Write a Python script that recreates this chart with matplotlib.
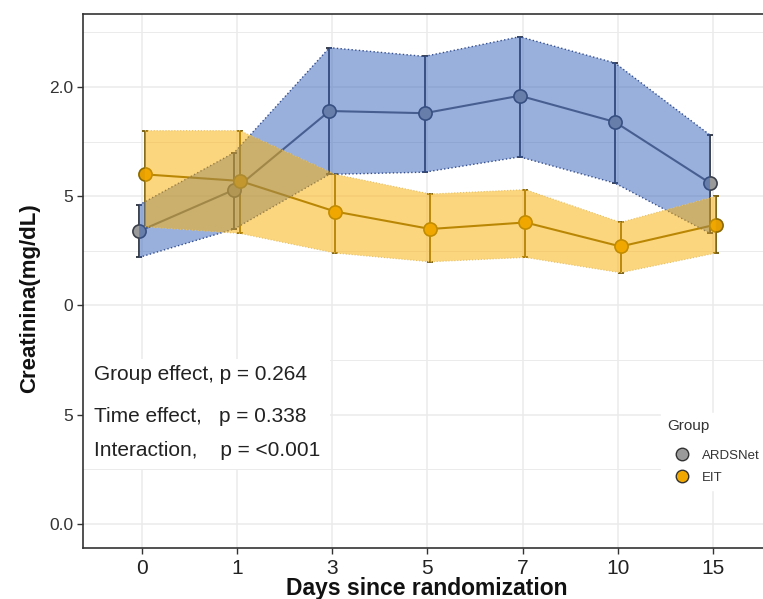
import matplotlib
matplotlib.use("Agg")
import matplotlib.pyplot as plt
from matplotlib.lines import Line2D
from matplotlib.patches import Rectangle
import numpy as np

plt.rcParams['font.family'] = ['Liberation Sans', 'DejaVu Sans']

# ---------------- data ----------------
days = ["0", "1", "3", "5", "7", "10", "15"]
ards_mean = [1.34, 1.53, 1.89, 1.88, 1.96, 1.84, 1.56]
ards_low = [1.22, 1.35, 1.60, 1.61, 1.68, 1.56, 1.33]
ards_high = [1.46, 1.70, 2.18, 2.14, 2.23, 2.11, 1.78]
eit_mean = [1.60, 1.57, 1.43, 1.35, 1.38, 1.27, 1.37]
eit_low = [1.36, 1.33, 1.24, 1.20, 1.22, 1.15, 1.24]
eit_high = [1.80, 1.80, 1.60, 1.51, 1.53, 1.38, 1.50]
ytick_vals = [0.0, 0.5, 1.0, 1.5, 2.0]
ytick_labels = ["0.0", "5", "0", "5", "2.0"]
group_names = ["ARDSNet", "EIT"]
stats_lines = ["Group effect, p = 0.264", "Time effect,   p = 0.338",
               "Interaction,    p = <0.001"]

W, H = 763, 599
fig = plt.figure(figsize=(W / 100, H / 100), dpi=100)
ax = fig.add_axes([83 / W, (H - 548) / H, 687 / W, 534 / H])

x = np.arange(len(days))
dodge = 0.03
xa = x - dodge
xe = x + dodge

# lines, error bars, points (below ribbons)
ax.errorbar(xa, ards_mean,
            yerr=[np.array(ards_mean) - np.array(ards_low),
                  np.array(ards_high) - np.array(ards_mean)],
            fmt='none', ecolor='#2c3240', elinewidth=1.3, capsize=2, capthick=1.3, zorder=2)
ax.errorbar(xe, eit_mean,
            yerr=[np.array(eit_mean) - np.array(eit_low),
                  np.array(eit_high) - np.array(eit_mean)],
            fmt='none', ecolor='#6e5608', elinewidth=1.3, capsize=2, capthick=1.3, zorder=2)
ax.plot(xa, ards_mean, color='#5a5e66', lw=1.5, zorder=3)
ax.plot(xe, eit_mean, color='#7a5f0a', lw=1.5, zorder=3)
ax.plot(xa, ards_mean, 'o', ms=9.5, mfc='#9a9a9a', mec='#3a3f4a', mew=1.2, zorder=4)
ax.plot(xe, eit_mean, 'o', ms=9.5, mfc='#e69f00', mec='#8a6a00', mew=1.2, zorder=4)

# ribbons on top
ax.fill_between(xa, ards_low, ards_high, facecolor='#3561bb', alpha=0.5,
                edgecolor='none', zorder=5)
ax.plot(xa, ards_low, color='#34508f', lw=1.0, ls=':', zorder=5)
ax.plot(xa, ards_high, color='#34508f', lw=1.0, ls=':', zorder=5)
ax.fill_between(xe, eit_low, eit_high, facecolor='#fbaf00', alpha=0.5,
                edgecolor='none', zorder=6)
ax.plot(xe, eit_low, color='#e8c060', lw=0.8, ls=':', zorder=6)
ax.plot(xe, eit_high, color='#e8c060', lw=0.8, ls=':', zorder=6)

# axes styling
ax.set_xlim(-0.62, 6.6)
ax.set_ylim(-0.11, 2.334)
ax.set_xticks(x)
ax.set_xticklabels(days, fontsize=15, color='#222222')
ax.set_yticks(ytick_vals)
ax.set_yticklabels(ytick_labels, fontsize=12.5, color='#333333')
ax.set_yticks(np.arange(0.25, 2.3, 0.5), minor=True)
ax.tick_params(axis='x', length=4, width=1, color='#333333', pad=4)
ax.tick_params(axis='y', length=4, width=1, color='#333333', pad=3)
ax.tick_params(axis='y', which='minor', length=0)
ax.grid(True, which='major', color='#ebebeb', lw=1.1, zorder=0)
ax.grid(True, which='minor', axis='y', color='#ebebeb', lw=0.7, zorder=0)
ax.set_axisbelow(True)
for s in ['left', 'bottom', 'top', 'right']:
    ax.spines[s].set_color('#333333')
    ax.spines[s].set_linewidth(1.2)

# white box behind statistics text
ax.add_patch(Rectangle((0, 0.148), 0.36, 0.205, transform=ax.transAxes,
                       facecolor='white', edgecolor='none', zorder=1.5))
for txt, yy in zip(stats_lines, [0.324, 0.247, 0.1835]):
    ax.text(0.016, yy, txt, transform=ax.transAxes, fontsize=15,
            color='#222222', ha='left', va='center', zorder=7)

# legend
handles = [Line2D([], [], ls='none', marker='o', ms=9, mfc='#9a9a9a',
                  mec='#333333', mew=1.0),
           Line2D([], [], ls='none', marker='o', ms=9, mfc='#f0a800',
                  mec='#333333', mew=1.0)]
leg = ax.legend(handles, group_names, title='Group', loc='upper left',
                bbox_to_anchor=(654 / W, 1 - 406 / H), bbox_transform=fig.transFigure,
                fontsize=9.5, title_fontsize=11, frameon=True, fancybox=False,
                framealpha=1, facecolor='white', edgecolor='white',
                handletextpad=0.4, labelspacing=0.7, borderpad=0.5,
                handlelength=2.2)
leg.set_zorder(8)
leg._legend_box.align = 'left'
leg._legend_box.sep = 12
for t in leg.get_texts():
    t.set_color('#333333')
leg.get_title().set_color('#333333')

# axis titles
fig.text(30 / W, 1 - 298 / H, "Creatinina(mg/dL)", rotation=90, ha='center',
         va='center', fontsize=16, fontweight='bold', color='#111111')
fig.text(427 / W, 4.5 / H, "Days since randomization", ha='center',
         va='baseline', fontsize=16.5, fontweight='bold', color='#111111')

fig.savefig("out.png", dpi=100)
